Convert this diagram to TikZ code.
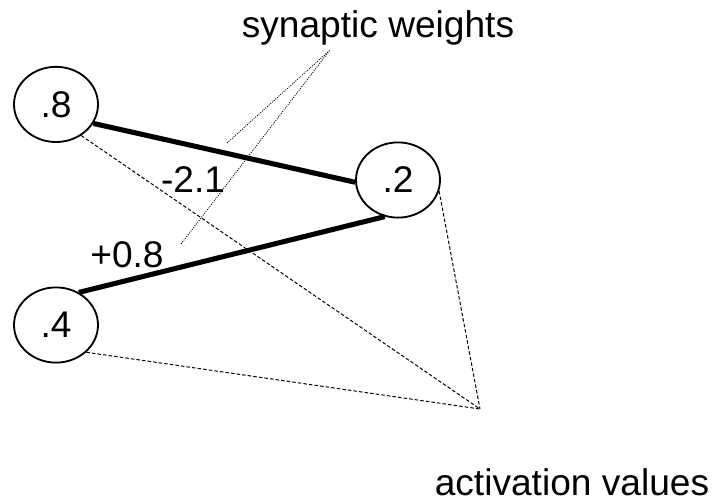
\documentclass[tikz,border=0pt]{standalone}
\usepackage{fontspec}
\setmainfont{Liberation Sans}
\usetikzlibrary{shapes.geometric}
\tikzset{
  unit/.style={draw,ellipse,line width=1.3pt,minimum width=2.1cm,minimum height=1.88cm,inner sep=0pt},
  weight/.style={line width=3.6pt},
  pointer/.style={line width=0.6pt,dash pattern=on 0.7pt off 0.9pt},
  activ/.style={line width=0.7pt,dash pattern=on 2.5pt off 1.5pt},
  labeltext/.style={inner sep=0pt,anchor=base}
}

\begin{document}
\begin{tikzpicture}[x=1cm,y=1cm,font=\fontsize{26.4}{31}\selectfont]
\useasboundingbox (0,0) rectangle (17.825,-12.575);
\node[unit] (n8) at (1.4,-2.61) {.8};
\node[unit] (n2) at (9.95,-4.5) {.2};
\node[unit] (n4) at (1.4,-8.125) {.4};
\node[labeltext] (sw) at (9.45,-0.925) {synaptic weights};
\node[labeltext] (av) at (14.3,-12.38) {activation values};
\node[labeltext] (w1) at (4.825,-4.8) {-2.1};
\node[labeltext] (w2) at (3.175,-6.675) {+0.8};
\coordinate (swtip) at (8.25,-1.25);
\coordinate (swend1) at (5.675,-3.575);
\coordinate (swend2) at (4.525,-6.1);
\coordinate (avtip) at (12,-10.225);
\draw[weight] (n8.-27)--(n2.183);
\draw[weight] (n2.-110)--(n4.55);
\draw[pointer] (swend1)--(swtip)--(swend2);
\draw[activ] (n8.-51)--(avtip);
\draw[activ] (n2.-15)--(avtip);
\draw[activ] (n4.-42)--(avtip);
\end{tikzpicture}
\end{document}
